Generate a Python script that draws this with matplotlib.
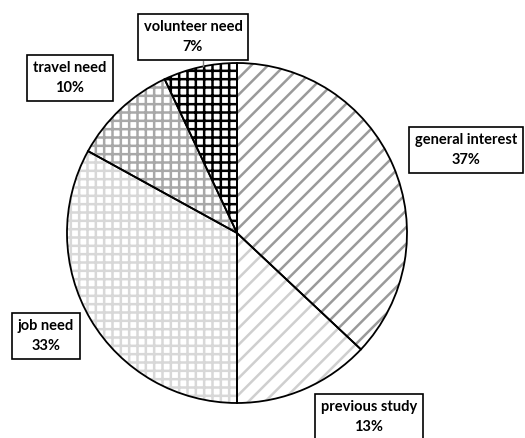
import matplotlib.pyplot as plt

plt.rcParams['hatch.linewidth'] = 1.8

categories = ["general interest", "previous study", "job need", "travel need", "volunteer need"]
shares = [37, 13, 33, 10, 7]

hatches = ['//', '//', '++', '++', '++']
hatch_colors = ['#9a9a9a', '#cfcfcf', '#d8d8d8', '#a8a8a8', '#000000']

# label box centres, in pixel coords (origin bottom-left)
label_pos = [(466, 288), (369, 21), (46, 102), (70, 360), (193, 401)]

fig = plt.figure(figsize=(5.25, 4.38), dpi=100)
ax = fig.add_axes([0, 0, 1, 1])

cx, cy, r = 237, 205, 170

wedges, _ = ax.pie(shares, startangle=90, counterclock=False, center=(cx, cy), radius=r,
                   colors=['white'] * len(shares), wedgeprops=dict(linewidth=0))
for w, h, hc in zip(wedges, hatches, hatch_colors):
    w.set_hatch(h)
    w.set_edgecolor(hc)

# black outlines on top
ax.pie(shares, startangle=90, counterclock=False, center=(cx, cy), radius=r,
       wedgeprops=dict(fill=False, edgecolor='black', linewidth=1.3))

# leader line for the small slice
ax.plot([203, 203], [377, 372], color='#808080', lw=1)

for name, val, (x, y) in zip(categories, shares, label_pos):
    ax.text(x, y, f"{name}\n{val}%", ha='center', va='center', fontsize=10.5,
            fontweight='bold', family='Lato', linespacing=1.5,
            bbox=dict(boxstyle='square,pad=0.4', fc='white', ec='black', lw=1.2))

ax.set_xlim(0, 525)
ax.set_ylim(0, 438)
ax.set_aspect('equal')
ax.axis('off')

fig.savefig("out.png", dpi=100)
